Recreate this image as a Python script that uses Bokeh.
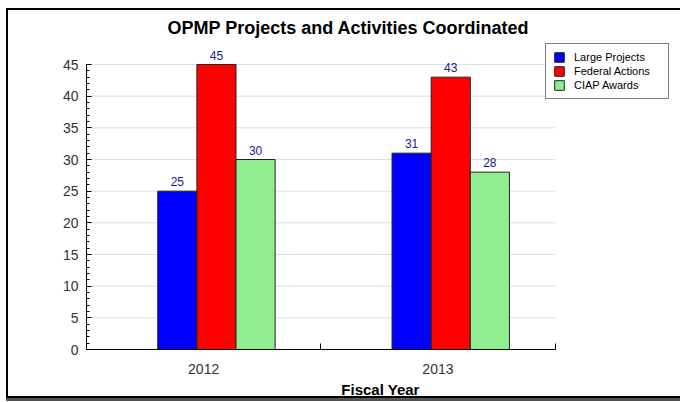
from bokeh.plotting import figure
from bokeh.models import (ColumnDataSource, Range1d, FixedTicker, SingleIntervalTicker,
                          LabelSet, Label, Legend, LegendItem)
from bokeh.core.properties import value
from bokeh.transform import dodge
from bokeh.embed import file_html
from bokeh.resources import INLINE

years = ["2012", "2013"]
large_projects = [25, 31]
federal_actions = [45, 43]
ciap_awards = [30, 28]
series_names = ["Large Projects", "Federal Actions", "CIAP Awards"]
series_colors = ["#0000ff", "#ff0000", "#90ee90"]
title_text = "OPMP Projects and Activities Coordinated"
x_title = "Fiscal Year"
y_max = 45
y_step = 5

FONT = "Liberation Sans"

n = len(years)
centers = [i + 0.5 for i in range(n)]
bounds = [float(i) for i in range(n + 1)]
grid_levels = list(range(y_step, y_max + 1, y_step))

# layout (pixels): axes span 467 x 285 px; the frame is larger to host legend and title
AXIS_W, FRAME_W = 467, 586
AXIS_H, FRAME_H = 285, 339
x_end = n * FRAME_W / AXIS_W
y_end = y_max * FRAME_H / AXIS_H

source = ColumnDataSource(dict(
    x=centers,
    year=years,
    large=large_projects,
    federal=federal_actions,
    ciap=ciap_awards,
    large_t=[str(v) for v in large_projects],
    federal_t=[str(v) for v in federal_actions],
    ciap_t=[str(v) for v in ciap_awards],
))

p = figure(width=674, height=390, output_backend="svg", toolbar_location=None,
           x_range=Range1d(0, x_end), y_range=Range1d(0, y_end),
           min_border_left=78, min_border_right=8, min_border_top=0, min_border_bottom=47)
p.styles = {"margin-left": "6px", "margin-top": "8px",
            "border-left": "2px solid black", "border-top": "2px solid black",
            "border-bottom": "2px solid black", "box-shadow": "0px 3px 0px #555555"}
p.title.visible = False
p.outline_line_color = None
p.background_fill_color = "white"
p.border_fill_color = "white"

title = Label(x=262, y=322, x_units="screen", y_units="screen", text=title_text,
              text_align="center", text_baseline="middle",
              text_font=FONT, text_font_size="18px", text_font_style="bold",
              text_color="#000000")
p.add_layout(title)

# horizontal grid lines, limited to the axis extent
grid_src = ColumnDataSource(dict(y=grid_levels, x0=[0] * len(grid_levels), x1=[n] * len(grid_levels)))
p.segment(x0="x0", x1="x1", y0="y", y1="y", source=grid_src, line_color="#dddddd", line_width=1)

bar_w = 0.167
offsets = [-0.1124, 0.0546, 0.2216]
cols = ["large", "federal", "ciap"]
items = []
for col, off, color, name in zip(cols, offsets, series_colors, series_names):
    r = p.vbar(x=dodge("x", off, range=p.x_range), top=col, width=bar_w, source=source,
               fill_color=color, line_color="#222222", line_width=1)
    items.append(LegendItem(label=name, renderers=[r]))
    lbl = LabelSet(x=dodge("x", off, range=p.x_range), y=col, text=col + "_t", source=source,
                   text_align="center", text_baseline="bottom", y_offset=5,
                   text_font=value(FONT), text_font_size="12px", text_color="#1a1a8c")
    p.add_layout(lbl)

legend = Legend(items=items, location=(459, 250), label_text_font=FONT,
                label_text_font_size="11px", label_text_color="#000000",
                glyph_width=12, glyph_height=12, spacing=2, padding=7, margin=0,
                label_standoff=9, label_height=12, label_width=87,
                border_line_color="#000000", border_line_width=1,
                background_fill_color="white", background_fill_alpha=1)
p.add_layout(legend)

# y axis
yax = p.yaxis[0]
yax.bounds = (0, y_max)
yax.ticker = SingleIntervalTicker(interval=y_step, num_minor_ticks=5)
yax.major_label_text_font = FONT
yax.major_label_text_font_size = "14px"
yax.major_label_text_color = "#333333"
yax.major_tick_in = 5
yax.major_tick_out = 0
yax.minor_tick_in = 3
yax.minor_tick_out = 0
yax.axis_line_color = "#000000"
yax.major_tick_line_color = "#000000"
yax.minor_tick_line_color = "#000000"
yax.major_label_standoff = 8

# x axis
xax = p.xaxis[0]
xax.bounds = (0, n)
xax.ticker = FixedTicker(ticks=centers, minor_ticks=bounds)
xax.major_label_overrides = {c: y for c, y in zip(centers, years)}
xax.major_tick_line_color = None
xax.minor_tick_in = 6
xax.minor_tick_out = 0
xax.minor_tick_line_color = "#000000"
xax.axis_line_color = "#000000"
xax.major_label_text_font = FONT
xax.major_label_text_font_size = "14px"
xax.major_label_text_color = "#333333"
xax.major_label_standoff = 8
xax.axis_label = x_title
xax.axis_label_text_font = FONT
xax.axis_label_text_font_size = "15px"
xax.axis_label_text_font_style = "bold"
xax.axis_label_text_color = "#000000"
xax.axis_label_standoff = 4

p.xgrid.grid_line_color = None
p.ygrid.grid_line_color = None

open("out.html", "w").write(file_html(p, INLINE))
